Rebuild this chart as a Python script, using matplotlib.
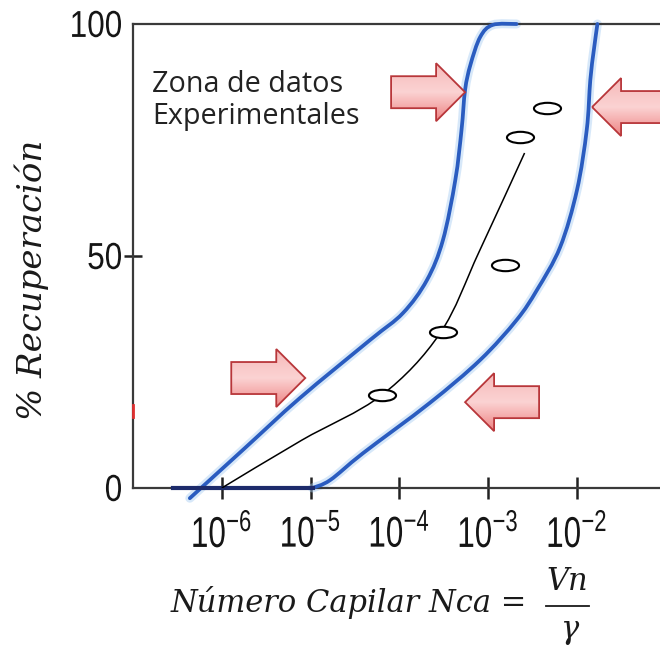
import numpy as np
import matplotlib
matplotlib.use("Agg")
import matplotlib.pyplot as plt
from matplotlib.patches import Polygon, PathPatch
from matplotlib.path import Path
from matplotlib.lines import Line2D
from matplotlib.colors import LinearSegmentedColormap
from matplotlib.ticker import FixedLocator, NullLocator
from matplotlib.textpath import TextPath
from matplotlib.font_manager import FontProperties
from matplotlib.transforms import Affine2D

plt.rcParams['font.family'] = ['Liberation Sans', 'DejaVu Sans']
plt.rcParams['mathtext.fontset'] = 'custom'
plt.rcParams['mathtext.rm'] = 'Liberation Sans'
plt.rcParams['mathtext.default'] = 'rm'

# envelope of the experimental zone (log10 Nca, % recovery)
left_logx = [-6.36, -5.74, -5.12, -4.33, -3.96, -3.69, -3.51, -3.37, -3.30, -3.26, -3.20, -3.09, -2.95, -2.68]
left_y = [-2.2, 8.6, 19.4, 31.9, 37.7, 44.8, 53.4, 66.4, 77.2, 85.8, 91.2, 97.2, 99.8, 100.0]
right_logx = [-4.98, -4.78, -4.41, -3.66, -3.09, -2.68, -2.45, -2.19, -2.00, -1.89, -1.85, -1.81, -1.77]
right_y = [0.0, 1.7, 7.5, 18.3, 27.6, 36.2, 42.7, 51.9, 64.2, 77.2, 87.9, 94.4, 100.0]

# trend line and measured points
trend_logx = [-6.0, -5.1, -4.20, -3.54, -3.10, -2.59]
trend_y = [0.0, 10.3, 20.0, 33.4, 51.0, 72.2]
pts_logx = [-4.20, -3.51, -2.81, -2.64, -2.34]
pts_y = [20.0, 33.6, 48.1, 75.6, 81.9]

# block arrows: tip position and direction (+1 right, -1 left)
arrow_logx = [-3.26, -1.83, -5.06, -3.26]
arrow_y = [85.3, 82.1, 23.7, 18.5]
arrow_dir = [1, -1, 1, -1]

xtick_exp = [-6, -5, -4, -3, -2]
ytick_vals = [0, 50, 100]

blue = '#2a5cc0'

fig = plt.figure(figsize=(6.6, 6.48), dpi=100)
ax = fig.add_axes([133 / 660, 1 - 488 / 648, 1 - 133 / 660, (488 - 24) / 648])
ax.set_xscale('log')
ax.set_xlim(10 ** -7, 10 ** -1.065)
ax.set_ylim(0, 100)

for side in ['left', 'bottom', 'top']:
    ax.spines[side].set_color('#3a3a3a')
    ax.spines[side].set_linewidth(1.6)
ax.spines['right'].set_visible(False)

ax.xaxis.set_major_locator(FixedLocator([10.0 ** e for e in xtick_exp]))
ax.xaxis.set_minor_locator(NullLocator())
ax.tick_params(axis='x', direction='inout', length=16.5, width=1.8,
               labelbottom=False, color='#222222')
ax.set_yticks(ytick_vals)
ax.tick_params(axis='y', direction='inout', length=13, width=1.8,
               labelleft=False, color='#222222')
for i, t in enumerate(ax.yaxis.get_major_ticks()):
    if ytick_vals[i] != 50:
        t.tick1line.set_visible(False)

px = fig.dpi / 72.0
label_font = FontProperties(family='Liberation Sans')


def narrow_text(x, y, s, size, squeeze, ha='center', vcenter=False):
    # tick label drawn as a horizontally condensed glyph path
    tp = TextPath((0, 0), s, size=size, prop=label_font)
    ext = tp.get_extents()
    sx = squeeze * px
    dx = -(ext.x0 + ext.x1) / 2 * sx if ha == 'center' else -ext.x1 * sx
    dy = -(ext.y0 + ext.y1) / 2 * px if vcenter else 0
    tr = Affine2D().scale(sx, px).translate(x + dx, y + dy)
    fig.add_artist(PathPatch(tp, transform=tr, fc='#151515', ec='none'))


x_axis_y = ax.transData.transform((1e-7, 0))[1]
for e in xtick_exp:
    tx = ax.transData.transform((10.0 ** e, 0))[0]
    narrow_text(tx, x_axis_y - 59, r'$10^{%d}$' % e, 31, 0.73)
for v in ytick_vals:
    ty = ax.transData.transform((1e-7, v))[1]
    narrow_text(121, ty, str(v), 27, 0.84, ha='right', vcenter=True)


def smooth_path(lx, ly):
    # Catmull-Rom through the traced points, as cubic Bezier segments
    p = ax.transData.transform(np.column_stack([10.0 ** np.array(lx), ly]))
    q = np.vstack([p[0], p, p[-1]])
    verts, codes = [p[0]], [Path.MOVETO]
    for i in range(1, len(q) - 2):
        c1 = q[i] + (q[i + 1] - q[i - 1]) / 6
        c2 = q[i + 1] - (q[i + 2] - q[i]) / 6
        verts += [c1, c2, q[i + 1]]
        codes += [Path.CURVE4] * 3
    return Path(ax.transAxes.inverted().transform(np.array(verts)), codes)


# envelope curves with a soft halo
for lx, ly in [(left_logx, left_y), (right_logx, right_y)]:
    path = smooth_path(lx, ly)
    ax.add_patch(PathPatch(path, transform=ax.transAxes, fc='none', ec='#a8cdf2',
                           lw=6.5, alpha=0.45, clip_on=False, capstyle='round', zorder=2))
    ax.add_patch(PathPatch(path, transform=ax.transAxes, fc='none', ec=blue,
                           lw=2.7, clip_on=False, capstyle='round', zorder=3))
ax.plot([10 ** -6.55, 10 ** -4.97], [0, 0], color='#1d2b6b', lw=3, clip_on=False, zorder=3)
ax.plot([1e-7, 1e-7], [15.3, 17.9], color='#e03030', lw=2, clip_on=False, zorder=4)

trend = smooth_path(trend_logx, trend_y)
ax.add_patch(PathPatch(trend, transform=ax.transAxes, fc='none', ec='black', lw=1.1, zorder=4))
circ = Path.unit_circle()
ellipse = Path(circ.vertices * np.array([1.0, 0.42]), circ.codes)
ax.plot(10.0 ** np.array(pts_logx), pts_y, linestyle='none', marker=ellipse,
        markersize=19.5, markerfacecolor='white', markeredgecolor='black',
        markeredgewidth=1.5, zorder=5)

# pink block arrows with a vertical gradient
pink = LinearSegmentedColormap.from_list('pink', ['#ee8484', '#fbd3d3', '#f6b9b9'])
grad = np.linspace(0, 1, 64).reshape(-1, 1)
L, head, bh, hh = 74, 29, 32, 58
shape = np.array([(0, 0), (-head, hh / 2), (-head, bh / 2), (-L, bh / 2),
                  (-L, -bh / 2), (-head, -bh / 2), (-head, -hh / 2)], dtype=float)
to_axes = ax.transAxes.inverted()
for lx, y, d in zip(arrow_logx, arrow_y, arrow_dir):
    tip = ax.transData.transform((10 ** lx, y))
    pts = np.column_stack([tip[0] + d * shape[:, 0], tip[1] + shape[:, 1]])
    pa = to_axes.transform(pts)
    poly = Polygon(pa, closed=True, transform=ax.transAxes, fc='none',
                   ec='#b8363a', lw=1.3, zorder=7, clip_on=False, joinstyle='miter')
    ax.add_patch(poly)
    im = ax.imshow(grad, cmap=pink, origin='lower', aspect='auto',
                   extent=[pa[:, 0].min(), pa[:, 0].max(), pa[:, 1].min(), pa[:, 1].max()],
                   transform=ax.transAxes, zorder=6)
    im.set_clip_path(poly)

fig.text(152 / 660, 1 - 70 / 648, 'Zona de datos\nExperimentales', family='Open Sans',
         fontsize=20.7, ha='left', va='top', linespacing=1.15, color='#222222')

serif = dict(family='DejaVu Serif', style='italic', color='#1a1a1a')
fig.text(32 / 660, 1 - 280 / 648, '% Recuperación', rotation=90, fontsize=24.5,
         ha='center', va='center', **serif)
fig.text(527 / 660, 1 - 612 / 648, 'Número Capilar Nca =', fontsize=22,
         ha='right', va='baseline', **serif)
fig.text(567 / 660, 1 - 590 / 648, 'Vn', fontsize=22, ha='center', va='baseline', **serif)
fig.text(569 / 660, 1 - 638 / 648, 'γ', fontsize=22, ha='center', va='baseline', **serif)
fig.add_artist(Line2D([546 / 660, 589 / 660], [1 - 606 / 648, 1 - 606 / 648],
                      color='#1a1a1a', lw=1.3))

fig.savefig('out.png', dpi=100)
